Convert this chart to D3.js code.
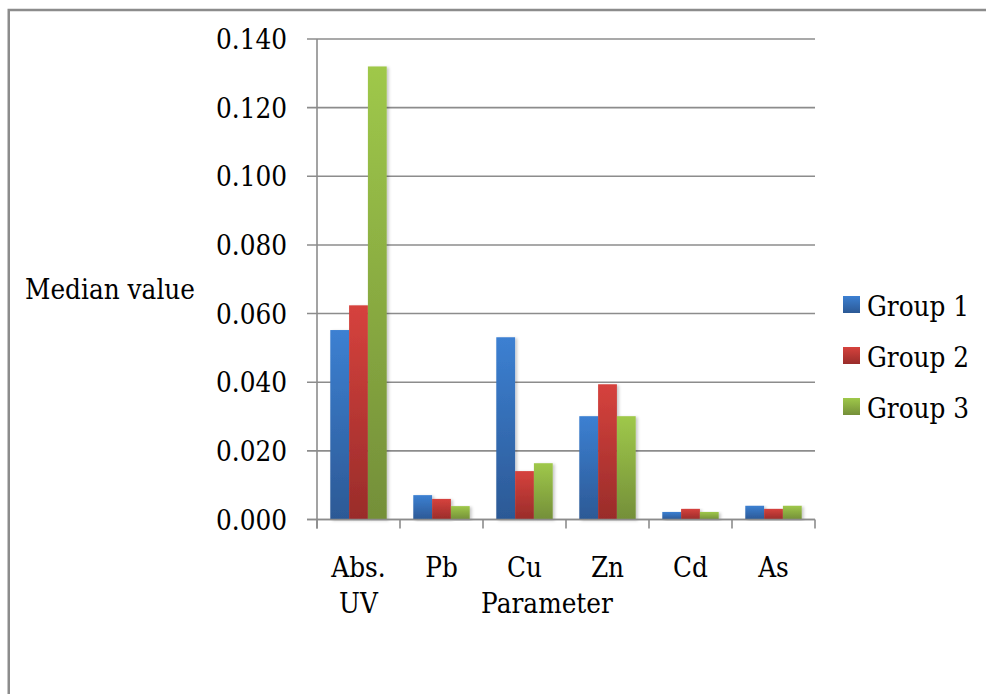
<!DOCTYPE html>
<html>
<head>
<meta charset="utf-8">
<script src="https://cdn.jsdelivr.net/npm/d3@7"></script>
<style>
  html, body { margin: 0; padding: 0; background: #fff; }
  svg { display: block; }
</style>
</head>
<body>
<script>
// Median value of each parameter per group
const categories = [["Abs.", "UV"], ["Pb"], ["Cu"], ["Zn"], ["Cd"], ["As"]];
const seriesNames = ["Group 1", "Group 2", "Group 3"];
const group1 = [0.0552, 0.0071, 0.0531, 0.0301, 0.0022, 0.0040];
const group2 = [0.0624, 0.0060, 0.0141, 0.0394, 0.0031, 0.0031];
const group3 = [0.1320, 0.0039, 0.0164, 0.0301, 0.0022, 0.0040];
const yTicks = [0, 0.02, 0.04, 0.06, 0.08, 0.10, 0.12, 0.14];
const yLabel = "Median value";
const xLabel = "Parameter";

const series = [group1, group2, group3];
const colors = [
  { top: "#3c80d2", bottom: "#2c5995" },
  { top: "#d6423d", bottom: "#992c2a" },
  { top: "#9fc84a", bottom: "#748f39" }
];
const FONT = "'DejaVu Serif', serif";
const FS = 27.5;

const W = 986, H = 694;
const svg = d3.select("body").append("svg").attr("width", W).attr("height", H)
  .style("font-family", FONT);

const defs = svg.append("defs");
colors.forEach((c, i) => {
  const g = defs.append("linearGradient").attr("id", "grad" + i)
    .attr("x1", 0).attr("y1", 0).attr("x2", 0).attr("y2", 1);
  g.append("stop").attr("offset", "0%").attr("stop-color", c.top);
  g.append("stop").attr("offset", "100%").attr("stop-color", c.bottom);
});
const shadow = defs.append("filter").attr("id", "shadow")
  .attr("x", "-20%").attr("y", "-5%").attr("width", "150%").attr("height", "115%");
shadow.append("feDropShadow").attr("dx", 2).attr("dy", 1).attr("stdDeviation", 1.5)
  .attr("flood-color", "#000").attr("flood-opacity", 0.22);

// outer frame
svg.append("path")
  .attr("d", `M8.75,${H + 5} L8.75,10 L${W + 5},10`)
  .attr("fill", "none").attr("stroke", "#8c8c8c").attr("stroke-width", 2.5);

const plot = { left: 317, right: 815, top: 39, bottom: 519.5 };

const x = d3.scaleBand().domain(d3.range(categories.length))
  .range([plot.left, plot.right]).paddingInner(0).paddingOuter(0);
const bw = x.bandwidth();
const xInner = d3.scaleBand().domain(d3.range(series.length))
  .range([bw * 0.16, bw * 0.84]).padding(0);
const y = d3.scaleLinear().domain([0, 0.14]).range([plot.bottom, plot.top]);

// gridlines
svg.append("g").selectAll("line").data(yTicks).join("line")
  .attr("x1", plot.left - 10).attr("x2", plot.right)
  .attr("y1", d => y(d)).attr("y2", d => y(d))
  .attr("stroke", "#8c8c8c").attr("stroke-width", 1.6);

// y tick labels
svg.append("g").selectAll("text").data(yTicks).join("text")
  .attr("class", "lbl")
  .attr("x", plot.left - 30).attr("y", d => y(d) + 10)
  .attr("text-anchor", "end")
  .text(d3.format(".3f"));

// bars
const barsG = svg.append("g");
series.forEach((vals, si) => {
  barsG.append("g").selectAll("rect").data(vals).join("rect")
    .attr("x", (d, i) => x(i) + xInner(si))
    .attr("width", xInner.bandwidth())
    .attr("y", d => y(d))
    .attr("height", d => y(0) - y(d))
    .attr("fill", `url(#grad${si})`)
    .attr("filter", "url(#shadow)");
});

// axes lines
svg.append("line").attr("x1", plot.left).attr("x2", plot.left)
  .attr("y1", plot.top).attr("y2", plot.bottom + 9)
  .attr("stroke", "#8c8c8c").attr("stroke-width", 1.6);
svg.append("line").attr("x1", plot.left - 10).attr("x2", plot.right)
  .attr("y1", plot.bottom).attr("y2", plot.bottom)
  .attr("stroke", "#8c8c8c").attr("stroke-width", 1.6);
const boundaries = d3.range(categories.length + 1).map(i => i < categories.length ? x(i) : x(i - 1) + bw);
svg.append("g").selectAll("line").data(boundaries).join("line")
  .attr("x1", d => d).attr("x2", d => d)
  .attr("y1", plot.bottom).attr("y2", plot.bottom + 9)
  .attr("stroke", "#8c8c8c").attr("stroke-width", 1.6);

// category labels, one text per line
const catG = svg.append("g");
categories.forEach((lines, i) => {
  lines.forEach((ln, j) => {
    catG.append("text").attr("class", "lbl").attr("text-anchor", "middle")
      .attr("x", x(i) + bw / 2).attr("y", 577 + j * 36).text(ln);
  });
});

// axis titles
svg.append("text").attr("class", "lbl").attr("x", 547).attr("y", 613)
  .attr("text-anchor", "middle").text(xLabel);
const yTitle = svg.append("text").attr("class", "lbl").attr("x", 25).attr("y", 299).text(yLabel);

// legend
const legend = svg.append("g");
seriesNames.forEach((name, i) => {
  const ly = 296 + i * 51;
  legend.append("rect").attr("x", 843).attr("y", ly).attr("width", 17).attr("height", 17)
    .attr("fill", `url(#grad${i})`);
  legend.append("text").attr("class", "lbl").attr("x", 867).attr("y", ly + 20).text(name);
});

// serif labels are set a little narrower, like a Times face
const labels = svg.selectAll("text.lbl").attr("font-size", FS).attr("fill", "#000");
const ratio = 170 / yTitle.node().getComputedTextLength();
labels.each(function () {
  const len = this.getComputedTextLength();
  d3.select(this).attr("textLength", len * ratio).attr("lengthAdjust", "spacingAndGlyphs");
});
</script>
</body>
</html>
